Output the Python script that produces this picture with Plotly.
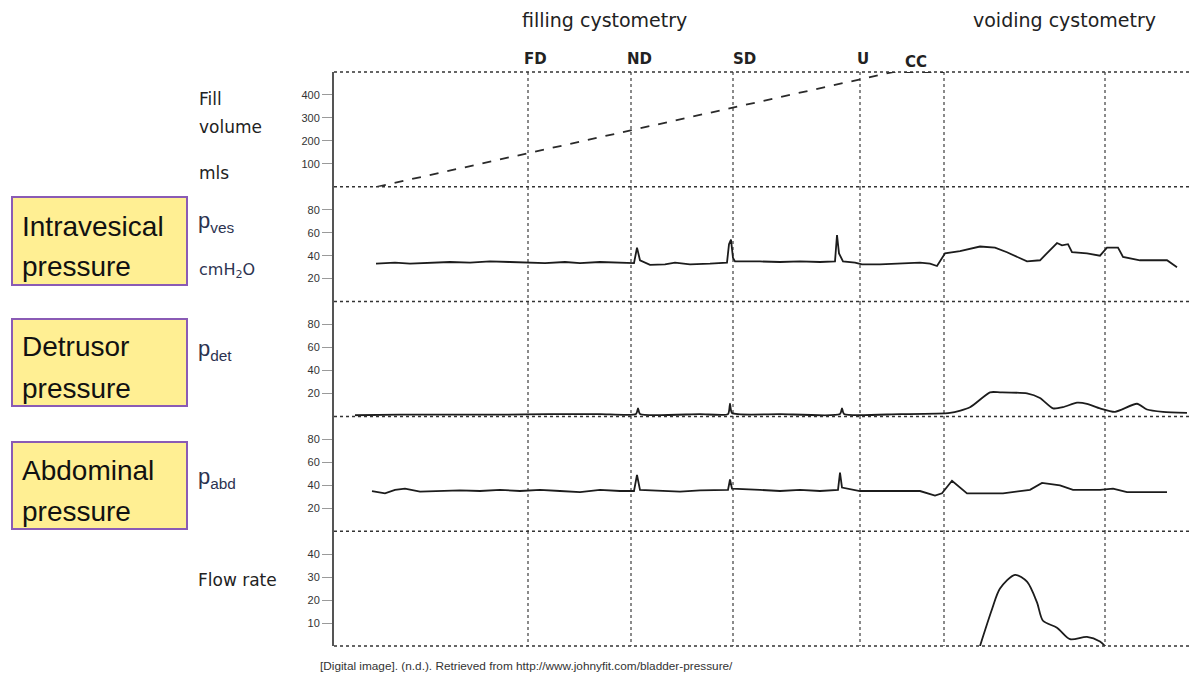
import plotly.graph_objects as go
from plotly.subplots import make_subplots

# ---------------- data ----------------
# time axis in seconds (arbitrary units of the trace)
event_t = [194, 297, 399, 526, 610, 771]
event_labels = ["FD", "ND", "SD", "U", "CC", ""]

fill_t = [43, 559, 610]
fill_ml = [0, 500, 500]

pves_t = [42, 61, 76, 96, 116, 136, 156, 176, 194, 211, 231, 246, 266, 281, 296, 300, 303, 306,
          316, 331, 341, 356, 376, 393, 395, 397, 399, 401, 426, 446, 466, 486, 501, 503, 505,
          509, 521, 528, 546, 566, 586, 596, 603, 611, 626, 646, 661, 673, 693, 706, 723, 728,
          734, 738, 753, 766, 773, 784, 789, 806, 833, 843]
pves_v = [33, 34, 33, 33.5, 34.5, 34, 35, 34.5, 34, 33.5, 34.5, 33.5, 34.5, 34, 33, 33.5, 47, 36,
          32, 32.5, 34, 32.5, 33, 34, 50, 54, 38, 35, 35, 34.5, 35, 34.5, 35, 58, 42,
          35, 34, 32.5, 32.5, 33, 34, 33, 31, 42, 44, 48, 47, 43, 35, 36, 51, 49,
          50, 43, 42, 40, 47, 47, 39, 36, 36, 30]

pdet_t = [21, 66, 116, 166, 216, 266, 302, 304, 306, 366, 394, 396, 398, 446, 506, 508, 510,
          566, 616, 636, 656, 666, 693, 706, 719, 729, 743, 753, 766, 781, 803, 813, 829, 853]
pdet_v = [1, 1.5, 1.5, 1.5, 2, 2, 2, 7, 2, 2, 2, 11, 3, 2, 2, 7, 2,
          2, 3, 8, 21, 21, 20, 16, 7, 8, 12, 11, 7, 4, 11, 6, 4, 3]

pabd_t = [38, 51, 61, 71, 86, 106, 126, 146, 166, 186, 206, 226, 246, 266, 286, 300, 303, 306,
          326, 346, 366, 394, 396, 398, 426, 446, 466, 486, 504, 506, 508, 526, 546, 566, 586,
          601, 608, 618, 633, 669, 696, 708, 726, 739, 766, 779, 793, 833]
pabd_v = [35, 33, 36, 37, 34.5, 35, 35.5, 35, 36, 35, 36, 35, 34, 36, 35, 35, 49, 36,
          35, 34.5, 35.5, 36, 45, 37, 36, 35, 36, 35, 36, 51, 38, 35, 35, 35, 35,
          31, 33, 44, 33, 33, 36, 42, 40, 36, 36, 37, 34, 34]

flow_t = [646, 658, 666, 681, 693, 703, 709, 723, 736, 753, 766, 771]
flow_v = [0, 16, 25, 31, 28, 19, 11, 8, 3, 4, 2, 0]

y_ranges = [[0, 500], [0, 100], [0, 100], [0, 100], [0, 50]]
y_ticks = [[100, 200, 300, 400], [20, 40, 60, 80], [20, 40, 60, 80], [20, 40, 60, 80],
           [10, 20, 30, 40]]
x_range = [0, 856]

# ---------------- layout helpers ----------------
W, H = 1193, 678
L, R, T, B = 334, 3, 72, 32


def px(x):
    return (x - L) / (W - L - R)


def py(y):
    return 1 - (y - T) / (H - T - B)


fig = make_subplots(rows=5, cols=1, shared_xaxes=True, vertical_spacing=0)

line_col = "#1c1c1c"
fig.add_trace(go.Scatter(x=fill_t, y=fill_ml, mode="lines",
                         line=dict(color="#2a2a2a", width=1.8, dash="dash")), row=1, col=1)
fig.add_trace(go.Scatter(x=pves_t, y=pves_v, mode="lines",
                         line=dict(color=line_col, width=1.8)), row=2, col=1)
fig.add_trace(go.Scatter(x=pdet_t, y=pdet_v, mode="lines",
                         line=dict(color=line_col, width=1.8, shape="spline", smoothing=0.6)),
              row=3, col=1)
fig.add_trace(go.Scatter(x=pabd_t, y=pabd_v, mode="lines",
                         line=dict(color=line_col, width=1.8)), row=4, col=1)
fig.add_trace(go.Scatter(x=flow_t, y=flow_v, mode="lines",
                         line=dict(color=line_col, width=1.8, shape="spline", smoothing=0.8)),
              row=5, col=1)

for r in range(1, 6):
    fig.update_xaxes(row=r, col=1, range=x_range, tickmode="array", tickvals=event_t,
                     showticklabels=False, ticks="", showgrid=True, griddash="dot",
                     gridcolor="#8a8a8a", gridwidth=1.5, zeroline=False, showline=False)
    fig.update_yaxes(row=r, col=1, range=y_ranges[r - 1], tickmode="array",
                     tickvals=y_ticks[r - 1], ticks="outside", ticklen=10, tickwidth=1,
                     tickcolor="#9a9a9a", showgrid=False, zeroline=False, showline=True,
                     linecolor="#555555", linewidth=2,
                     tickfont=dict(family="Liberation Sans", size=11, color="#333333"))

shapes = []
# dotted panel separators
for r in range(1, 6):
    yref = "y domain" if r == 1 else f"y{r} domain"
    shapes.append(dict(type="line", xref="paper", yref=yref, x0=0, x1=1, y0=0, y1=0,
                       line=dict(color="#333333", width=1.5, dash="dot")))
shapes.append(dict(type="line", xref="paper", yref="y domain", x0=0, x1=1, y0=1, y1=1,
                   line=dict(color="#333333", width=1.5, dash="dot")))

# yellow boxes on the left
box_fill = "#FFEF93"
box_line = "#8A5BB5"
for (y0, y1) in [(197, 285), (319, 406), (442, 529)]:
    shapes.append(dict(type="rect", xref="paper", yref="paper",
                       x0=px(12), x1=px(187), y0=py(y1), y1=py(y0),
                       fillcolor=box_fill, line=dict(color=box_line, width=2)))

annotations = []


def txt(text, x, y, size, family="Liberation Sans", color="#222222", xanchor="left"):
    annotations.append(dict(text=text, x=px(x), y=py(y), xref="paper", yref="paper",
                            xanchor=xanchor, yanchor="middle", showarrow=False,
                            font=dict(family=family, size=size, color=color)))


# headings
txt("filling cystometry", 604, 20, 19, family="DejaVu Sans", xanchor="center")
txt("voiding cystometry", 1064, 20, 19, family="DejaVu Sans", xanchor="center")

# event labels
label_shift = [7, 8, 11, 3, -28, 0]
for t, lab, sh in zip(event_t, event_labels, label_shift):
    if lab:
        annotations.append(dict(text=f"<b>{lab}</b>", x=t, xref="x",
                                y=py(59 if lab != "CC" else 62),
                                yref="paper", xshift=sh, showarrow=False, xanchor="center",
                                yanchor="middle",
                                font=dict(family="DejaVu Sans", size=15, color="#222222")))

# channel labels
lab_font = "DejaVu Sans"
txt("Fill", 197, 99, 17, family=lab_font)
txt("volume", 197, 127, 17, family=lab_font)
txt("mls", 197, 173, 17, family=lab_font)
txt("p<sub>ves</sub>", 196, 222, 22, family="Liberation Sans", color="#2c3350")
txt("cmH<sub>2</sub>O", 197, 270, 16, family=lab_font, color="#2c3350")
txt("p<sub>det</sub>", 196, 350, 22, family="Liberation Sans", color="#2c3350")
txt("p<sub>abd</sub>", 196, 478, 22, family="Liberation Sans", color="#2c3350")
txt("Flow rate", 196, 580, 17, family=lab_font)

# box texts
box_texts = [("Intravesical", 226), ("pressure", 266), ("Detrusor", 347), ("pressure", 388),
             ("Abdominal", 470), ("pressure", 511)]
for s, y in box_texts:
    txt(s, 20, y, 28, family="Liberation Sans", color="#111111")

# citation
txt("[Digital image]. (n.d.). Retrieved from http://www.johnyfit.com/bladder-pressure/",
    318, 666, 11.8, family="Liberation Sans", color="#333333")

fig.update_layout(width=W, height=H, margin=dict(l=L, r=R, t=T, b=B),
                  paper_bgcolor="white", plot_bgcolor="white", showlegend=False,
                  shapes=shapes, annotations=annotations)

fig.write_html("out.html")
